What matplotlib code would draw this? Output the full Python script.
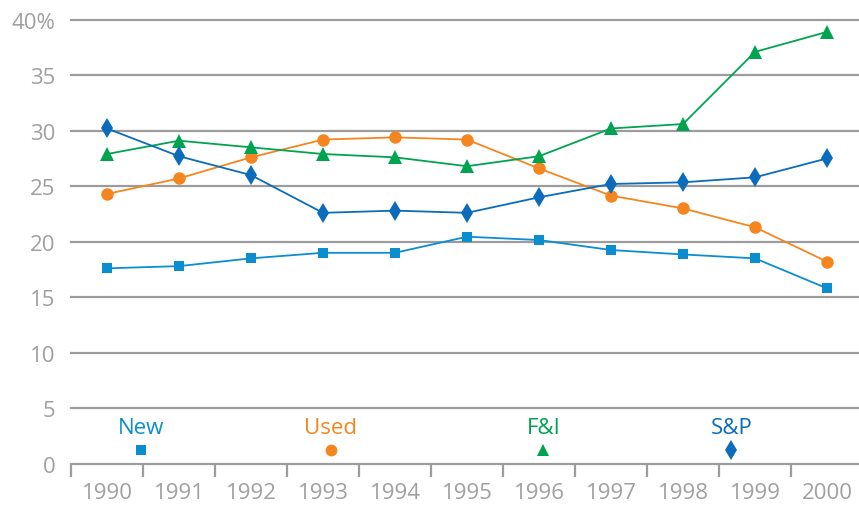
import matplotlib
matplotlib.use("Agg")
import matplotlib.pyplot as plt
from matplotlib.ticker import FixedLocator

plt.rcParams['font.family'] = ['Open Sans', 'DejaVu Sans']

years = [1990, 1991, 1992, 1993, 1994, 1995, 1996, 1997, 1998, 1999, 2000]
new_vals = [17.6, 17.8, 18.5, 19.0, 19.0, 20.45, 20.15, 19.25, 18.85, 18.5, 15.8]
used_vals = [24.3, 25.7, 27.6, 29.2, 29.4, 29.2, 26.6, 24.15, 23.0, 21.3, 18.2]
fi_vals = [27.9, 29.1, 28.5, 27.9, 27.6, 26.8, 27.7, 30.2, 30.6, 37.1, 38.9]
sp_vals = [30.2, 27.7, 26.0, 22.6, 22.8, 22.6, 24.0, 25.2, 25.35, 25.8, 27.5]

series_names = ["New", "Used", "F&I", "S&P"]
legend_x = [1990.47, 1993.11, 1996.06, 1998.67]
y_ticks = [0, 5, 10, 15, 20, 25, 30, 35, 40]
y_labels = ["0", "5", "10", "15", "20", "25", "30", "35", "40%"]

c_new = "#0A8ED0"
c_used = "#F5861F"
c_fi = "#00A450"
c_sp = "#0A6CBA"
gray = "#A0A0A0"
grid_c = "#9C9C9C"

W, H = 859, 506
fig = plt.figure(figsize=(W / 100, H / 100), dpi=100)
left, right = 71, 863
bottom, top = 464.7, 20.7
ax = fig.add_axes([left / W, (H - bottom) / H, (right - left) / W, (bottom - top) / H])
ax.set_xlim(1989.5, 2000.5)
ax.set_ylim(0, 40)

for s in ["top", "right", "left"]:
    ax.spines[s].set_visible(False)
ax.spines["bottom"].set_color(grid_c)
ax.spines["bottom"].set_linewidth(1.6)

fs = 16
ax.set_yticks(y_ticks)
ax.set_yticklabels(y_labels)
ax.tick_params(axis="y", length=0, pad=11, labelsize=fs, labelcolor=gray)
for yv in y_ticks[1:]:
    ax.axhline(yv, color=grid_c, lw=1.6, zorder=1, clip_on=False)

ax.set_xticks(years)
ax.set_xticklabels([str(y) for y in years])
ax.xaxis.set_minor_locator(FixedLocator([y - 0.5 for y in years] + [2000.5]))
ax.tick_params(axis="x", which="major", length=0, pad=13, labelsize=fs, labelcolor=gray)
ax.tick_params(axis="x", which="minor", length=9, width=1.6, color=grid_c, direction="out")

lw = 1.3
ax.plot(years, new_vals, color=c_new, lw=lw, marker="s", ms=7.4, mew=0, zorder=3)
ax.plot(years, used_vals, color=c_used, lw=lw, marker="o", ms=9, mew=0, zorder=3)
ax.plot(years, fi_vals, color=c_fi, lw=lw, marker="^", ms=10, mew=0, zorder=3)
ax.plot(years, sp_vals, color=c_sp, lw=lw, marker="d", ms=10.5, mew=0, zorder=3)

markers = [("s", 7.4, c_new), ("o", 8.5, c_used), ("^", 9, c_fi), ("d", 10, c_sp)]
for name, lx, (m, ms, c) in zip(series_names, legend_x, markers):
    ax.plot([lx], [1.2], marker=m, ms=ms, mew=0, color=c, linestyle="none", zorder=3, clip_on=False)
    ax.text(lx, 3.3, name, color=c, fontsize=fs, ha="center", va="center")

fig.savefig("out.png", dpi=100)
